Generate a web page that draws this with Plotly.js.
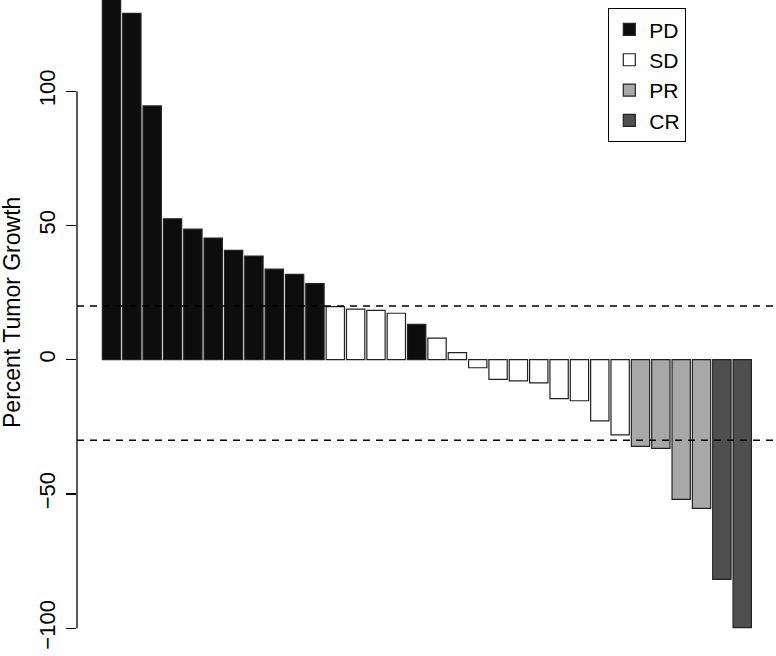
<!DOCTYPE html>
<html>
<head>
<meta charset="utf-8">
<script src="https://cdn.plot.ly/plotly-3.0.1.min.js"></script>
<style>
  html, body { margin: 0; padding: 0; background: #fff; }
  #chart { width: 776px; height: 656px; }
</style>
</head>
<body>
<div id="chart"></div>
<script>
// percent change per patient, sorted high to low (first bar runs off the top)
const growth = [
  140, 129, 94.5, 52.5, 48.6, 45.3, 40.7, 38.6, 33.7, 31.8, 28.3,
  19.8, 18.8, 18.4, 17.3, 13.2, 8.0, 2.6,
  -3.0, -7.3, -7.9, -8.6, -14.5, -15.3, -22.8, -28.0,
  -32.3, -33.0, -52.0, -55.4, -81.8, -99.8
];
const response = [
  "PD", "PD", "PD", "PD", "PD", "PD", "PD", "PD", "PD", "PD", "PD",
  "SD", "SD", "SD", "SD", "PD", "SD", "SD",
  "SD", "SD", "SD", "SD", "SD", "SD", "SD", "SD",
  "PR", "PR", "PR", "PR", "CR", "CR"
];
const groups = ["PD", "SD", "PR", "CR"];
const fills = { PD: "#0d0d0d", SD: "#ffffff", PR: "#a8a8a8", CR: "#4f4f4f" };
const cutoffs = [20, -30];
const yTicks = [-100, -50, 0, 50, 100];

const font = "Liberation Sans, Arial, Helvetica, sans-serif";

function buildTraces() {
  return groups.map(g => {
    const xs = [];
    const ys = [];
    growth.forEach((v, i) => {
      if (response[i] === g) {
        xs.push(i + 1);
        ys.push(v);
      }
    });
    return {
      type: "bar",
      name: g,
      x: xs,
      y: ys,
      width: 0.9,
      marker: {
        color: fills[g],
        line: { color: "#222222", width: 1.2 }
      },
      hoverinfo: "skip"
    };
  });
}

const shapes = cutoffs.map(c => ({
  type: "line",
  xref: "paper", x0: 0, x1: 1,
  yref: "y", y0: c, y1: c,
  layer: "above",
  line: { color: "#000", width: 1.3, dash: "7px,6px" }
}));
// R-style axis line only spanning the tick range
shapes.push({
  type: "line",
  xref: "paper", x0: 0, x1: 0,
  yref: "y", y0: yTicks[0], y1: yTicks[yTicks.length - 1],
  line: { color: "#000", width: 1.3 }
});

Plotly.newPlot("chart", buildTraces(), {
  width: 776,
  height: 656,
  paper_bgcolor: "#fff",
  plot_bgcolor: "#fff",
  margin: { l: 77, r: 0, t: 0, b: 0 },
  barmode: "overlay",
  showlegend: true,
  font: { family: font, color: "#000" },
  xaxis: {
    range: [-0.695, 33.66],
    showticklabels: false,
    showgrid: false,
    zeroline: false,
    showline: false,
    ticks: ""
  },
  yaxis: {
    range: [-110.36, 133.97],
    tickvals: yTicks,
    ticktext: yTicks.map(t => t < 0 ? "\u2212" + Math.abs(t) : String(t)),
    tickangle: -90,
    ticks: "outside",
    ticklen: 10,
    tickwidth: 1.3,
    tickcolor: "#000",
    tickfont: { size: 22, family: font },
    ticklabelstandoff: 2,
    showgrid: false,
    zeroline: false,
    showline: false,
    automargin: false
  },
  legend: {
    x: (608 - 77) / 699,
    xanchor: "left",
    y: 1 - 8 / 656,
    yanchor: "top",
    bgcolor: "#fff",
    bordercolor: "#000",
    borderwidth: 1.3,
    font: { size: 21, family: font },
    itemwidth: 30,
    traceorder: "normal"
  },
  shapes: shapes,
  annotations: [{
    text: "Percent Tumor Growth",
    xref: "paper", x: (12 - 77) / 699,
    yref: "paper", y: 1 - 313 / 656,
    xanchor: "center", yanchor: "middle",
    textangle: -90,
    showarrow: false,
    font: { size: 23, family: font, color: "#000" }
  }]
}, {
  displayModeBar: false,
  staticPlot: true
});
</script>
</body>
</html>
